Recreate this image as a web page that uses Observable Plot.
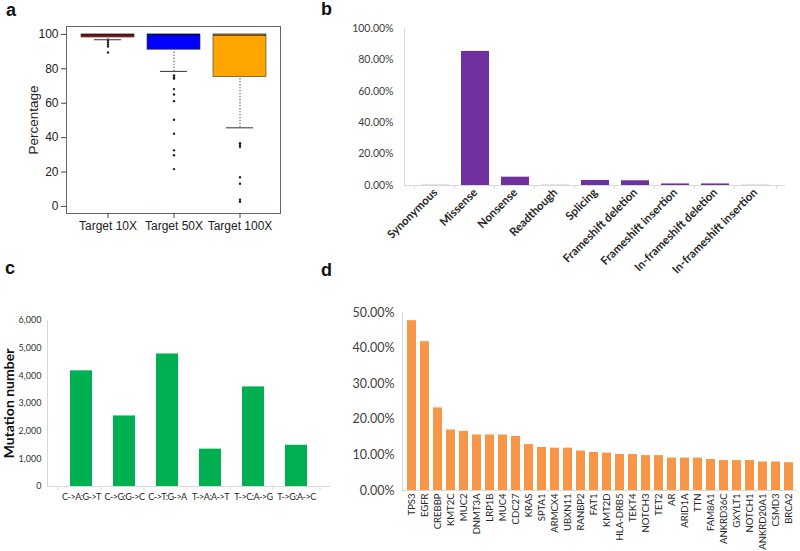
<!DOCTYPE html>
<html>
<head>
<meta charset="utf-8">
<script src="https://cdn.jsdelivr.net/npm/d3@7"></script>
<script src="https://cdn.jsdelivr.net/npm/@observablehq/plot@0.6"></script>
<style>
  html, body { margin: 0; padding: 0; background: #fff; }
  #fig { position: relative; width: 800px; height: 551px; overflow: hidden; background: #fff; }
  .panel { position: absolute; }
  .letter { position: absolute; font: bold 18px "Liberation Sans", Arial, sans-serif; color: #111; line-height: 18px; }
</style>
</head>
<body>
<div id="fig">
  <div class="letter" style="left:6px;top:1px">a</div>
  <div class="letter" style="left:321px;top:0px">b</div>
  <div class="letter" style="left:5px;top:259px">c</div>
  <div class="letter" style="left:321px;top:261px">d</div>
  <div class="panel" id="pa" style="left:0;top:0"></div>
  <div class="panel" id="pb" style="left:330px;top:0"></div>
  <div class="panel" id="pc" style="left:0;top:290px"></div>
  <div class="panel" id="pd" style="left:340px;top:290px"></div>
</div>
<script>
// ---------- Panel a: coverage box plots ----------
const depthGroups = ["Target 10X", "Target 50X", "Target 100X"];
const boxQ1 = [98.2, 91.1, 75.2];
const boxMedian = [99.7, 99.9, 99.6];
const boxQ3 = [100, 100, 100];
const whiskerLow = [96.9, 78.5, 45.7];
const boxColors = ["#a81818", "#0000ff", "#ffa500"];
const outliers10X = [96.5, 95.3, 94.2, 93.0, 89.5];
const outliers50X = [76.2, 75.1, 74.3, 68.2, 65.1, 61.2, 50.4, 42.3, 32.6, 29.8, 21.7];
const outliers100X = [36.8, 35.6, 34.5, 17.0, 13.2, 3.9, 2.7];
const percentTicks = [0, 20, 40, 60, 80, 100];

// ---------- Panel b: mutation types ----------
const mutTypes = ["Synonymous", "Missense", "Nonsense", "Readthough", "Splicing",
  "Frameshift deletion", "Frameshift insertion", "In-frameshift deletion", "In-frameshift insertion"];
const mutPct = [0.1, 85.4, 5.3, 0.1, 3.2, 3.0, 1.0, 1.0, 0.1];
const mutTicks = [0, 20, 40, 60, 80, 100];

// ---------- Panel c: substitution types ----------
const subTypes = ["C->A:G->T", "C->G:G->C", "C->T:G->A", "T->A:A->T", "T->C:A->G", "T->G:A->C"];
const subCounts = [4180, 2550, 4790, 1350, 3600, 1490];
const subTicks = [0, 1000, 2000, 3000, 4000, 5000, 6000];

// ---------- Panel d: top mutated genes ----------
const genes = ["TPS3", "EGFR", "CREBBP", "KMT2C", "MUC2", "DNMT3A", "LRP1B", "MUC4", "CDC27", "KRAS",
  "SPTA1", "ARMCX4", "UBXN11", "RANBP2", "FAT1", "KMT2D", "HLA-DRB5", "TEKT4", "NOTCH3", "TET2",
  "AR", "ARID1A", "TTN", "FAM8A1", "ANKRD36C", "GXYLT1", "NOTCH1", "ANKRD20A1", "CSMD3", "BRCA2"];
const genePct = [47.7, 41.8, 23.2, 17.0, 16.6, 15.6, 15.6, 15.6, 15.2, 12.9,
  12.1, 11.9, 11.9, 11.1, 10.7, 10.5, 10.1, 10.1, 9.8, 9.8,
  9.1, 9.1, 9.1, 8.7, 8.4, 8.4, 8.4, 8.0, 8.0, 7.8];
const geneTicks = [0, 10, 20, 30, 40, 50];

const pctFmt = d => d.toFixed(2) + "%";
const calibri = "Lato, 'Open Sans', sans-serif";
const axisGray = "#d9d9d9";
const textGray = "#404040";

// category boundary ticks under a band x axis
function boundaryTicks(domain, step) {
  return [
    Plot.ruleX(domain, {x: d => d, dx: -step / 2, y1: 0, y2: 0, insetBottom: -4, stroke: axisGray}),
    Plot.ruleX([domain[domain.length - 1]], {x: d => d, dx: step / 2, y1: 0, y2: 0, insetBottom: -4, stroke: axisGray})
  ];
}

// ===== Panel a =====
const boxRows = depthGroups.map((g, i) => ({g, q1: boxQ1[i], med: boxMedian[i], q3: boxQ3[i], lo: whiskerLow[i], color: boxColors[i]}));
const outRows = [
  ...outliers10X.map(v => ({g: depthGroups[0], v})),
  ...outliers50X.map(v => ({g: depthGroups[1], v})),
  ...outliers100X.map(v => ({g: depthGroups[2], v}))
];
const pa = Plot.plot({
  width: 300, height: 260,
  marginLeft: 66, marginRight: 20, marginTop: 26, marginBottom: 47,
  style: {fontFamily: "'Liberation Sans', Arial, sans-serif", fontSize: "12px", color: "#222", background: "transparent"},
  x: {type: "band", domain: depthGroups, paddingInner: 0.2, paddingOuter: 0.22},
  y: {domain: [-4.1, 104.6]},
  color: {type: "identity"},
  marks: [
    Plot.frame({stroke: "#666"}),
    Plot.axisY({ticks: percentTicks, tickSize: 5, tickPadding: 3, label: null, fontSize: 12, stroke: "#444"}),
    Plot.axisX({tickSize: 5, tickPadding: 3, label: null, fontSize: 12, stroke: "#444"}),
    Plot.ruleX(boxRows, {x: "g", y1: "lo", y2: "q1", stroke: "#333", strokeDasharray: "1.2,1.8", strokeWidth: 1}),
    Plot.tickY(boxRows, {x: "g", y: "lo", insetLeft: 13, insetRight: 13, stroke: "#333", strokeWidth: 1}),
    Plot.barY(boxRows, {x: "g", y1: "q1", y2: "q3", fill: "color", stroke: "#333", strokeWidth: 0.6}),
    Plot.tickY(boxRows, {x: "g", y: "med", stroke: "#111", strokeWidth: 1}),
    Plot.dot(outRows, {x: "g", y: "v", r: 1.2, fill: "#222", stroke: null}),
    Plot.text(["Percentage"], {frameAnchor: "left", dx: -33, rotate: -90, textAnchor: "middle", fontSize: 13.5, fill: "#222"})
  ]
});
document.getElementById("pa").appendChild(pa);

// ===== Panel b =====
const stepB = (470 - 74 - 15) / mutTypes.length;
const pb = Plot.plot({
  width: 470, height: 275,
  marginLeft: 74, marginRight: 15, marginTop: 28, marginBottom: 90,
  style: {fontFamily: calibri, fontSize: "10.5px", color: textGray, background: "transparent"},
  x: {type: "band", domain: mutTypes, padding: 0.31},
  y: {domain: [0, 100]},
  marks: [
    Plot.frame({anchor: "left", stroke: axisGray}),
    Plot.ruleY([0], {stroke: axisGray}),
    ...boundaryTicks(mutTypes, stepB),
    Plot.barY(mutTypes, {x: d => d, y: (d, i) => mutPct[i], fill: "#7030a0"}),
    Plot.axisY({ticks: mutTicks, tickFormat: pctFmt, tickSize: 0, tickPadding: 11, label: null, fontSize: 10.5, fill: textGray}),
    Plot.axisX({tickRotate: -45, tickSize: 0, tickPadding: 5, label: null, fontSize: 11.5, fontWeight: "bold", fill: "#262626"})
  ]
});
document.getElementById("pb").appendChild(pb);

// ===== Panel c =====
const stepC = (345 - 47 - 15) / subTypes.length;
const pc = Plot.plot({
  width: 345, height: 230,
  marginLeft: 47, marginRight: 15, marginTop: 30, marginBottom: 34,
  style: {fontFamily: calibri, fontSize: "9px", color: textGray, background: "transparent"},
  x: {type: "band", domain: subTypes, padding: 0.5},
  y: {domain: [0, 6000]},
  marks: [
    Plot.frame({anchor: "left", stroke: axisGray}),
    Plot.ruleY([0], {stroke: axisGray}),
    ...boundaryTicks(subTypes, stepC),
    Plot.barY(subTypes, {x: d => d, y: (d, i) => subCounts[i], fill: "#00b050"}),
    Plot.axisY({ticks: subTicks, tickFormat: d3.format(","), tickSize: 0, tickPadding: 6, label: null, fontSize: 9, fill: "#333"}),
    Plot.axisX({tickSize: 0, tickPadding: 7, label: null, fontSize: 9, fill: "#262626"}),
    Plot.text(["Mutation number"], {frameAnchor: "left", dx: -38, rotate: -90, textAnchor: "middle", fontSize: 14, fontWeight: "bold", fill: "#111"})
  ]
});
const cLabels = pc.querySelector('g[aria-label="x-axis tick label"]');
if (cLabels) cLabels.style.letterSpacing = "-0.5px";
document.getElementById("pc").appendChild(pc);

// ===== Panel d =====
const pd = Plot.plot({
  width: 460, height: 261,
  marginLeft: 62, marginRight: 3, marginTop: 22, marginBottom: 61,
  style: {fontFamily: calibri, fontSize: "12.5px", color: textGray, background: "transparent"},
  x: {type: "band", domain: genes, padding: 0.32},
  y: {domain: [0, 50]},
  marks: [
    Plot.frame({anchor: "left", stroke: axisGray}),
    Plot.ruleY([0], {stroke: axisGray}),
    Plot.barY(genes, {x: d => d, y: (d, i) => genePct[i], fill: "#f79646"}),
    Plot.axisY({ticks: geneTicks, tickFormat: pctFmt, tickSize: 0, tickPadding: 8, label: null, fontSize: 12.5, fill: textGray}),
    Plot.axisX({tickRotate: -90, tickSize: 0, tickPadding: 3, label: null, fontSize: 9.5, fill: "#262626"})
  ]
});
document.getElementById("pd").appendChild(pd);
</script>
</body>
</html>
